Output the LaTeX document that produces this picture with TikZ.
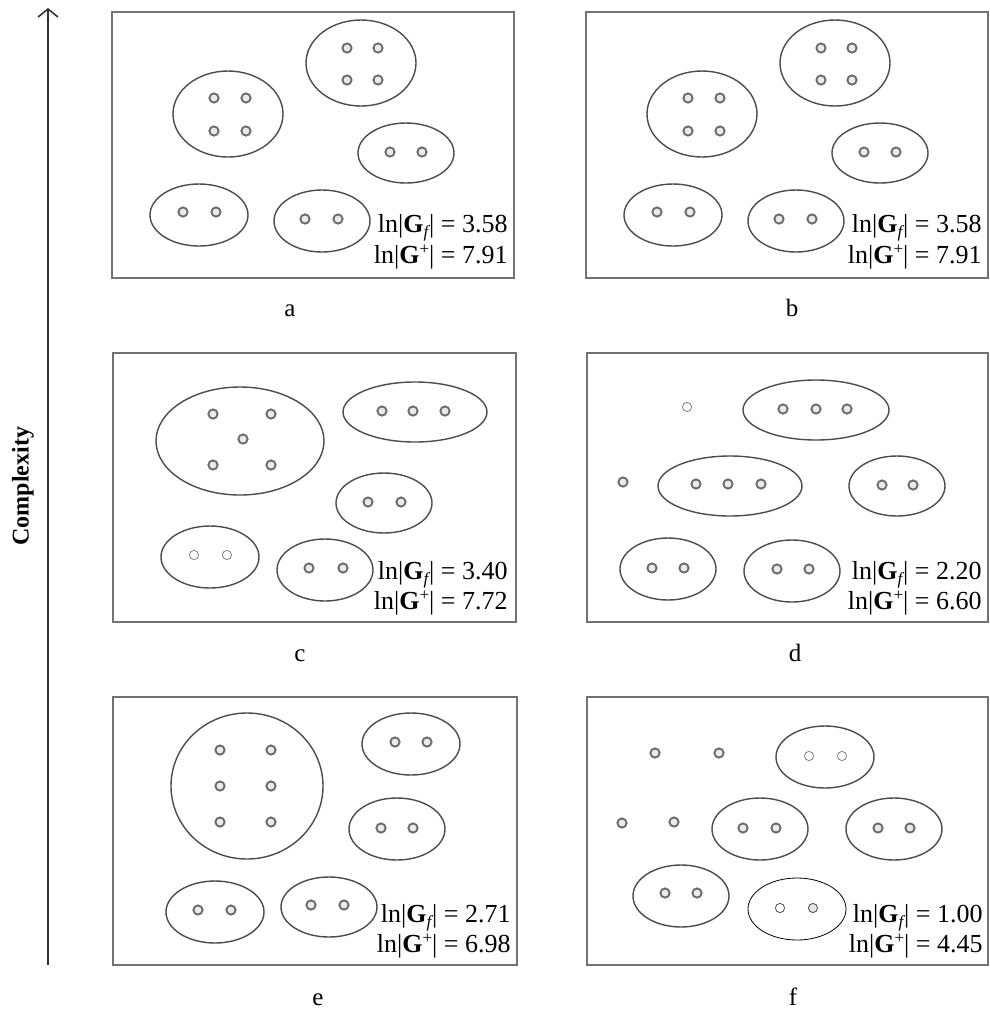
\documentclass[tikz,border=0pt]{standalone}
\usepackage{fontspec}
\setmainfont{Liberation Serif}
\usetikzlibrary{arrows.meta}
\newcommand\myGf[1]{ln|\textbf{G}\raisebox{-0.42ex}{\fontsize{8.5}{9}\selectfont\itshape f}\kern0.5pt| = #1}
\newcommand\myGp[1]{ln|\textbf{G}\raisebox{0.75ex}{\fontsize{8.5}{9}\selectfont +}| = #1}
\newcommand\myell[4]{\draw[ellst] (#1,#2) ellipse[x radius=#3, y radius=#4];}
\newcommand\mydot[2]{\draw[dotst] (#1,#2) circle[radius=4.6];}
\newcommand\myldot[2]{\draw[ldotst] (#1,#2) circle[radius=4.6];}
\begin{document}
\begin{tikzpicture}[x=0.5pt,y=-0.5pt,
  boxst/.style={draw=black!55, line width=0.75pt},
  ellst/.style={draw=black!70, line width=0.7pt},
  thinell/.style={draw=black, line width=0.4pt},
  dotst/.style={draw=black!58, fill=black!8, line width=0.95pt},
  ldotst/.style={draw=black!50, fill=white, line width=0.4pt},
  val/.style={font=\fontsize{13}{15}\selectfont, inner sep=0pt, anchor=base east},
  panellbl/.style={font=\fontsize{12.5}{14}\selectfont, inner sep=0pt, anchor=base},
  axisarrow/.style={draw=black!80, line width=0.8pt, -{Straight Barb[length=4pt,width=10pt]}}]
\useasboundingbox (0,0) rectangle (990,1009);
% axis
\coordinate (ab) at (48,965);
\coordinate (at) at (48,8);
\draw[axisarrow] (ab) -- (at);
\node[font=\bfseries\fontsize{12}{14}\selectfont, rotate=90, inner sep=0pt] (cx) at (23,486) {Complexity};

% ---------- panel a and b ----------
\foreach \dx/\nm in {0/a,474/b}{
\begin{scope}[shift={(\dx,0)}]
\draw[boxst] (112,12) rectangle (514,278);
\myell{361}{63}{55}{43}
\myell{228}{114}{55}{43}
\myell{406}{153}{48}{30}
\myell{199}{215}{49}{31}
\myell{322}{221}{48}{31}
\mydot{347}{48}\mydot{378}{48}\mydot{347}{80}\mydot{378}{80}
\mydot{214}{98}\mydot{246}{98}\mydot{214}{131}\mydot{246}{131}
\mydot{390}{152}\mydot{422}{152}
\mydot{183}{212}\mydot{216}{212}
\mydot{305}{219}\mydot{338}{219}
\node[val] (v1\nm) at (508,232) {\myGf{3.58}};
\node[val] (v2\nm) at (508,263) {\myGp{7.91}};
\end{scope}}
\node[panellbl] (la) at (290,316) {a};
\node[panellbl] (lb) at (792,316) {b};

% ---------- panel c ----------
\draw[boxst] (113,353) rectangle (516,622);
\myell{240}{441}{84}{54}
\myell{415}{412}{72}{30}
\myell{384}{503}{48}{30}
\myell{210}{557}{49}{31}
\myell{325}{570}{48}{31}
\mydot{213}{414}\mydot{271}{414}\mydot{243}{439}\mydot{213}{465}\mydot{271}{465}
\mydot{382}{411}\mydot{413}{411}\mydot{445}{411}
\mydot{368}{502}\mydot{401}{502}
\myldot{194}{555}\myldot{227}{555}
\mydot{309}{568}\mydot{343}{568}
\node[val] (v1c) at (508,579) {\myGf{3.40}};
\node[val] (v2c) at (508,609) {\myGp{7.72}};
\node[panellbl] (lc) at (300,661) {c};

% ---------- panel d ----------
\draw[boxst] (587,353) rectangle (988,622);
\myldot{687}{407}
\myell{816}{410}{73}{30}
\mydot{783}{409}\mydot{816}{409}\mydot{847}{409}
\mydot{623}{482}
\myell{730}{486}{72}{30}
\mydot{696}{484}\mydot{728}{484}\mydot{761}{484}
\myell{897}{486}{48}{30}
\mydot{882}{485}\mydot{913}{485}
\myell{668}{569}{48}{31}
\mydot{652}{568}\mydot{684}{568}
\myell{792}{571}{48}{31}
\mydot{777}{569}\mydot{809}{569}
\node[val] (v1d) at (982,579) {\myGf{2.20}};
\node[val] (v2d) at (982,609) {\myGp{6.60}};
\node[panellbl] (ld) at (795,661) {d};

% ---------- panel e ----------
\draw[boxst] (113,697) rectangle (517,965);
\myell{247}{786}{76}{73}
\mydot{220}{750}\mydot{271}{750}\mydot{220}{786}\mydot{271}{786}\mydot{220}{822}\mydot{271}{822}
\myell{411}{744}{49}{31}
\mydot{395}{742}\mydot{427}{742}
\myell{397}{829}{48}{31}
\mydot{381}{828}\mydot{413}{828}
\myell{215}{912}{49}{31}
\mydot{198}{910}\mydot{231}{910}
\myell{329}{907}{48}{30}
\mydot{311}{905}\mydot{344}{905}
\node[val] (v1e) at (511,922) {\myGf{2.71}};
\node[val] (v2e) at (511,952) {\myGp{6.98}};
\node[panellbl] (le) at (318,1005) {e};

% ---------- panel f ----------
\draw[boxst] (587,697) rectangle (988,965);
\mydot{655}{753}\mydot{719}{753}
\myell{825}{757}{49}{31}
\myldot{809}{756}\myldot{842}{756}
\mydot{622}{823}\mydot{674}{822}
\myell{760}{829}{48}{31}
\mydot{743}{828}\mydot{776}{828}
\myell{894}{829}{48}{31}
\mydot{878}{828}\mydot{910}{828}
\myell{681}{896}{48}{31}
\mydot{665}{893}\mydot{697}{893}
\draw[thinell] (797,909) ellipse[x radius=49, y radius=31];
\draw[ldotst, draw=black!70] (780,908) circle[radius=4.6];
\draw[ldotst, draw=black!70, fill=black!10] (813,908) circle[radius=4.6];
\node[val] (v1f) at (983,922) {\myGf{1.00}};
\node[val] (v2f) at (983,952) {\myGp{4.45}};
\node[panellbl] (lf) at (793,1005) {f};
\end{tikzpicture}
\end{document}
